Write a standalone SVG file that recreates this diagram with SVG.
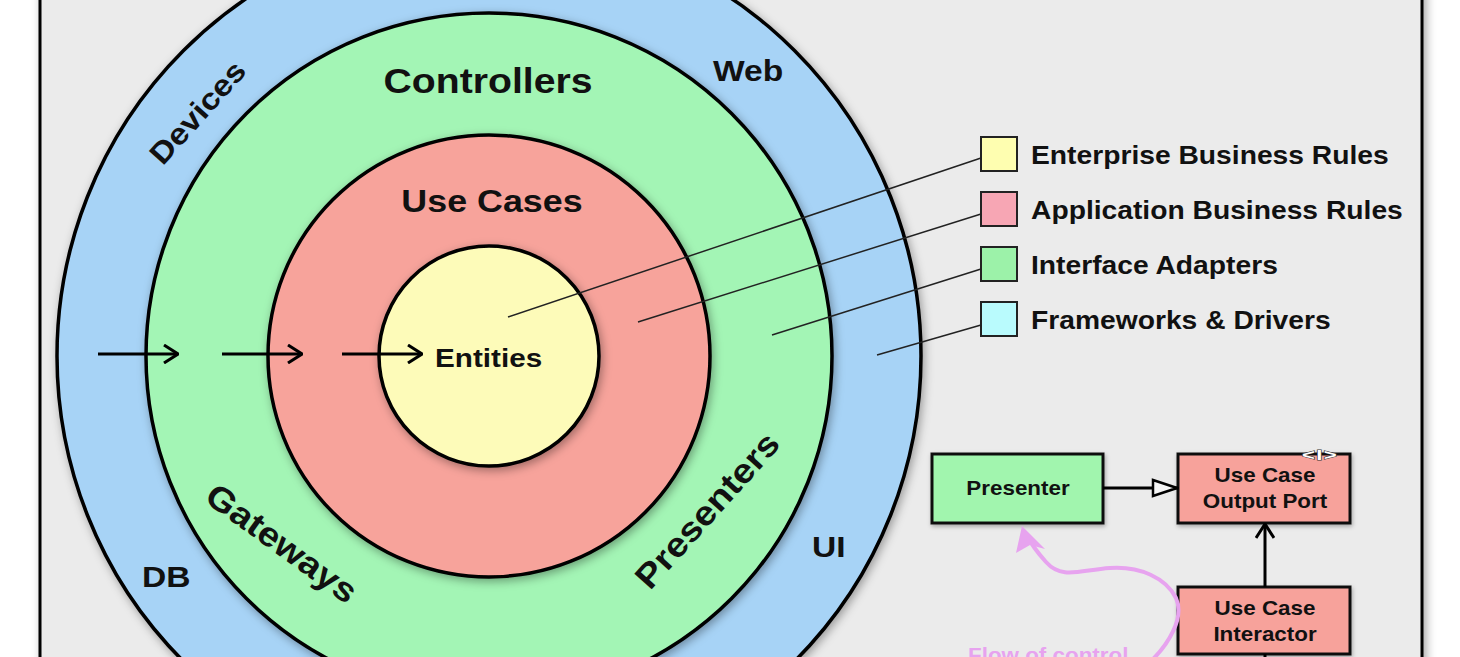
<svg xmlns="http://www.w3.org/2000/svg" width="1460" height="657" viewBox="0 0 1460 657">
  <defs>
    <style>
      .lbl { font-family: "Liberation Sans", Arial, Helvetica, sans-serif; font-weight: bold; fill: #111; }
      .ring { stroke: #000; stroke-width: 3.5; filter: url(#shadow); }
      .leader { stroke: #222; stroke-width: 1.5; fill: none; }
      .legbox { stroke: #222; stroke-width: 2; }
      .uml { stroke: #111; stroke-width: 3; filter: url(#shadowSmall); }
      .flow { stroke: #e7a3ef; fill: none; stroke-width: 4; stroke-linecap: round; }
      .arrow { stroke: #000; stroke-width: 3; }
    </style>
    <filter id="shadow" x="-20%" y="-20%" width="140%" height="140%">
      <feDropShadow dx="2" dy="3" stdDeviation="5" flood-color="#000" flood-opacity="0.35"/>
    </filter>
    <filter id="shadowSmall" x="-20%" y="-20%" width="140%" height="140%">
      <feDropShadow dx="1" dy="2" stdDeviation="2" flood-color="#000" flood-opacity="0.3"/>
    </filter>
    <filter id="frameShadow" x="-5%" y="-5%" width="110%" height="110%">
      <feDropShadow dx="3" dy="0" stdDeviation="5" flood-color="#000" flood-opacity="0.35"/>
    </filter>
    <marker id="openV" viewBox="0 0 16 20" refX="15" refY="10" markerWidth="16" markerHeight="20" markerUnits="userSpaceOnUse" orient="auto">
      <path d="M1,1 L15,10 L1,19" fill="none" stroke="#000" stroke-width="3"/>
    </marker>
    <marker id="hollowTri" viewBox="0 0 28 20" refX="27" refY="10" markerWidth="28" markerHeight="20" markerUnits="userSpaceOnUse" orient="auto">
      <path d="M2,2 L26,10 L2,18 Z" fill="#f4f4f4" stroke="#000" stroke-width="2.5"/>
    </marker>
  </defs>

  <rect x="0" y="0" width="1460" height="657" fill="#ffffff"/>
  <g id="frame">
    <rect x="40" y="-20" width="1382" height="700" fill="#ebebeb" stroke="#000" stroke-width="3" filter="url(#frameShadow)"/>
  </g>

  <g id="ring-frameworks">
    <circle class="ring" cx="489" cy="356" r="432" fill="#a7d3f6"/>
    <text class="lbl" font-size="30" text-anchor="middle" transform="translate(197,112) rotate(-48) scale(1.12,1)" y="11">Devices</text>
    <text class="lbl" font-size="30" transform="translate(713,81) scale(1.12,1)">Web</text>
    <text class="lbl" font-size="30" transform="translate(812,557) scale(1.12,1)">UI</text>
    <text class="lbl" font-size="30" transform="translate(142,587) scale(1.12,1)">DB</text>
  </g>

  <g id="ring-adapters">
    <circle class="ring" cx="489" cy="356" r="343" fill="#a3f5b5"/>
    <text class="lbl" font-size="35" text-anchor="middle" transform="translate(488,93) scale(1.12,1)">Controllers</text>
    <text class="lbl" font-size="34" text-anchor="middle" transform="translate(282,543) rotate(36) scale(1.12,1)" y="12">Gateways</text>
    <text class="lbl" font-size="34" text-anchor="middle" transform="translate(707,510) rotate(-48) scale(1.12,1)" y="12">Presenters</text>
  </g>

  <g id="ring-usecases">
    <circle class="ring" cx="489" cy="356" r="221" fill="#f7a39b"/>
    <text class="lbl" font-size="32" text-anchor="middle" transform="translate(492,212) scale(1.12,1)">Use Cases</text>
  </g>

  <g id="ring-entities">
    <circle class="ring" cx="489" cy="356" r="110" fill="#fdfbb9"/>
    <text class="lbl" font-size="26.5" transform="translate(435,367) scale(1.12,1)">Entities</text>
  </g>

  <g id="legend-enterprise">
    <rect class="legbox" x="981" y="137" width="36" height="34" fill="#fefeb0"/>
    <text class="lbl" font-size="25" transform="translate(1031,164) scale(1.13,1)">Enterprise Business Rules</text>
  </g>
  <g id="legend-application">
    <rect class="legbox" x="981" y="192" width="36" height="34" fill="#f7a6b4"/>
    <text class="lbl" font-size="25" transform="translate(1031,219) scale(1.13,1)">Application Business Rules</text>
  </g>
  <g id="legend-interface">
    <rect class="legbox" x="981" y="247" width="36" height="34" fill="#9cf2a9"/>
    <text class="lbl" font-size="25" transform="translate(1031,274) scale(1.13,1)">Interface Adapters</text>
  </g>
  <g id="legend-frameworks">
    <rect class="legbox" x="981" y="302" width="36" height="34" fill="#b9fbfd"/>
    <text class="lbl" font-size="25" transform="translate(1031,329) scale(1.13,1)">Frameworks &amp; Drivers</text>
  </g>

  <g id="node-presenter">
    <rect class="uml" x="932" y="454" width="171" height="69" fill="#a1f5ae"/>
    <text class="lbl" font-size="20" text-anchor="middle" transform="translate(1018,495) scale(1.12,1)">Presenter</text>
  </g>
  <g id="node-output-port">
    <rect class="uml" x="1178" y="454" width="172" height="69" fill="#f7a29b"/>
    <text class="lbl" font-size="20" text-anchor="middle" transform="translate(1265,482) scale(1.12,1)">Use Case</text>
    <text class="lbl" font-size="20" text-anchor="middle" transform="translate(1265,508) scale(1.12,1)">Output Port</text>
    <text font-family="Liberation Sans, Arial, sans-serif" font-weight="bold" font-size="17" fill="#ffffff" stroke="#333" stroke-width="1.2" paint-order="stroke" text-anchor="middle" letter-spacing="1" transform="translate(1320,460) scale(1.3,0.85)">&lt;I&gt;</text>
  </g>
  <g id="node-interactor">
    <rect class="uml" x="1178" y="587" width="172" height="67" fill="#f7a29b"/>
    <text class="lbl" font-size="20" text-anchor="middle" transform="translate(1265,615) scale(1.12,1)">Use Case</text>
    <text class="lbl" font-size="20" text-anchor="middle" transform="translate(1265,641) scale(1.12,1)">Interactor</text>
  </g>

  <g id="connectors">
    <line class="arrow" x1="98" y1="354" x2="178" y2="354" marker-end="url(#openV)"/>
    <line class="arrow" x1="222" y1="354" x2="302" y2="354" marker-end="url(#openV)"/>
    <line class="arrow" x1="342" y1="354" x2="422" y2="354" marker-end="url(#openV)"/>

    <line class="leader" x1="981" y1="158" x2="508" y2="317"/>
    <line class="leader" x1="981" y1="214" x2="638" y2="322"/>
    <line class="leader" x1="981" y1="269" x2="772" y2="335"/>
    <line class="leader" x1="981" y1="325" x2="877" y2="355"/>

    <line class="arrow" x1="1103" y1="488" x2="1178" y2="488" marker-end="url(#hollowTri)"/>
    <line class="arrow" x1="1265" y1="587" x2="1265" y2="524" marker-end="url(#openV)"/>
    <line class="arrow" x1="1265" y1="654" x2="1265" y2="660"/>

    <path class="flow" d="M1150,662 C1168,645 1185,618 1176,598 C1166,578 1140,566 1110,568 C1080,570 1062,580 1046,562 C1037,552 1030,542 1026,534"/>
    <polygon points="1022,526 1016,553 1030,545 1045,549" fill="#e7a3ef"/>
    <text font-family="Liberation Sans, Arial, sans-serif" font-weight="bold" font-size="20" fill="#e7a3ef" transform="translate(968,662) scale(1.12,1)">Flow of control</text>
  </g>
</svg>
